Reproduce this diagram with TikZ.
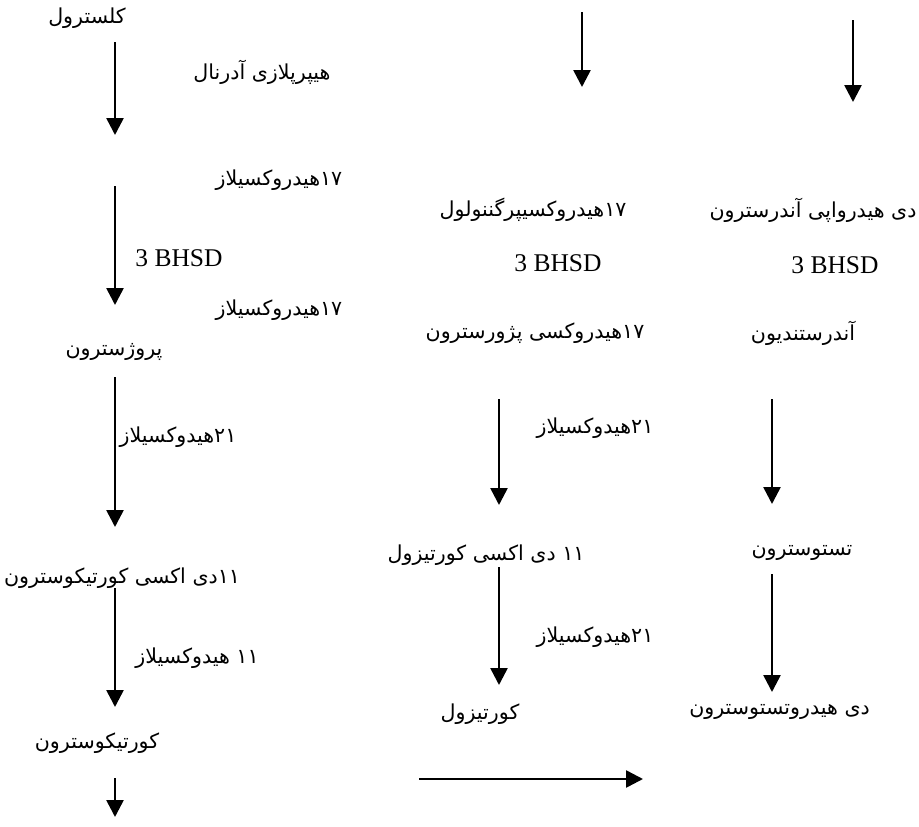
\documentclass[tikz,border=0pt]{standalone}
\usepackage{fontspec}
\setmainfont{Liberation Serif}
\newfontfamily\fa[Script=Arabic]{DejaVu Sans}
\TeXXeTstate=1
\usetikzlibrary{arrows.meta}
\newcommand{\rtl}[1]{\beginR #1\endR}
\tikzset{
  fa/.style={inner sep=0pt, font=\fa\fontsize{20.6}{24}\selectfont},
  lat/.style={inner sep=0pt, font=\fontsize{25.5}{30}\selectfont},
  flow/.style={line width=2.6pt, -{Triangle[width=17pt,length=17pt]}}
}
\begin{document}
\begin{tikzpicture}[x=1pt,y=-1pt]
\useasboundingbox (0,0) rectangle (919,827);

% left column: glucocorticoid / mineralocorticoid path
\node[fa] (chol)    at (87,18)   {\rtl{کلسترول}};
\node[fa] (hyper)   at (262,72)  {\rtl{هیپرپلازی آدرنال}};
\node[fa] (h17a)    at (279,180) {\rtl{۱۷هیدروکسیلاز}};
\node[lat] (bhsdA)  at (179,258) {3 BHSD};
\node[fa] (h17b)    at (279,310) {\rtl{۱۷هیدروکسیلاز}};
\node[fa] (prog)    at (114,352) {\rtl{پروژسترون}};
\node[fa] (h21a)    at (178,437) {\rtl{۲۱هیدوکسیلاز}};
\node[fa] (doc)     at (122,578) {\rtl{۱۱دی اکسی کورتیکوسترون}};
\node[fa] (h11)     at (197,658) {\rtl{۱۱ هیدوکسیلاز}};
\node[fa] (cortico) at (97,743)  {\rtl{کورتیکوسترون}};

\coordinate (l1s) at (115,42);  \coordinate (l1e) at (115,135);
\coordinate (l2s) at (115,186); \coordinate (l2e) at (115,305);
\coordinate (l3s) at (115,377); \coordinate (l3e) at (115,527);
\coordinate (l4s) at (115,588); \coordinate (l4e) at (115,707);
\coordinate (l5s) at (115,778); \coordinate (l5e) at (115,817);
\draw[flow] (l1s) -- (l1e);
\draw[flow] (l2s) -- (l2e);
\draw[flow] (l3s) -- (l3e);
\draw[flow] (l4s) -- (l4e);
\draw[flow] (l5s) -- (l5e);

% middle column: cortisol path
\node[fa] (mpreg)    at (533,210) {\rtl{۱۷هیدروکسیپرگننولول}};
\node[lat] (bhsdB)   at (558,263) {3 BHSD};
\node[fa] (mohp)     at (535,333) {\rtl{۱۷هیدروکسی پژورسترون}};
\node[fa] (h21b)     at (595,428) {\rtl{۲۱هیدوکسیلاز}};
\node[fa] (dcort)    at (486,555) {\rtl{۱۱ دی اکسی کورتیزول}};
\node[fa] (h21c)     at (595,637) {\rtl{۲۱هیدوکسیلاز}};
\node[fa] (cortisol) at (480,714) {\rtl{کورتیزول}};

\coordinate (m1s) at (582,12);  \coordinate (m1e) at (582,87);
\coordinate (m2s) at (499,399); \coordinate (m2e) at (499,505);
\coordinate (m3s) at (499,567); \coordinate (m3e) at (499,685);
\draw[flow] (m1s) -- (m1e);
\draw[flow] (m2s) -- (m2e);
\draw[flow] (m3s) -- (m3e);

% right column: androgen path
\node[fa] (dhea)   at (813,210) {\rtl{دی هیدرواپی آندرسترون}};
\node[lat] (bhsdC) at (835,265) {3 BHSD};
\node[fa] (andro)  at (803,333) {\rtl{آندرستندیون}};
\node[fa] (testo)  at (802,553) {\rtl{تستوسترون}};
\node[fa, anchor=east] (dht) at (870,712) {\rtl{دی هیدروتستوسترون}};

\coordinate (r1s) at (853,20);  \coordinate (r1e) at (853,102);
\coordinate (r2s) at (772,399); \coordinate (r2e) at (772,504);
\coordinate (r3s) at (772,574); \coordinate (r3e) at (772,692);
\draw[flow] (r1s) -- (r1e);
\draw[flow] (r2s) -- (r2e);
\draw[flow] (r3s) -- (r3e);

% horizontal arrow at the bottom
\coordinate (hs) at (419,779); \coordinate (he) at (643,779);
\draw[flow] (hs) -- (he);
\end{tikzpicture}
\end{document}
